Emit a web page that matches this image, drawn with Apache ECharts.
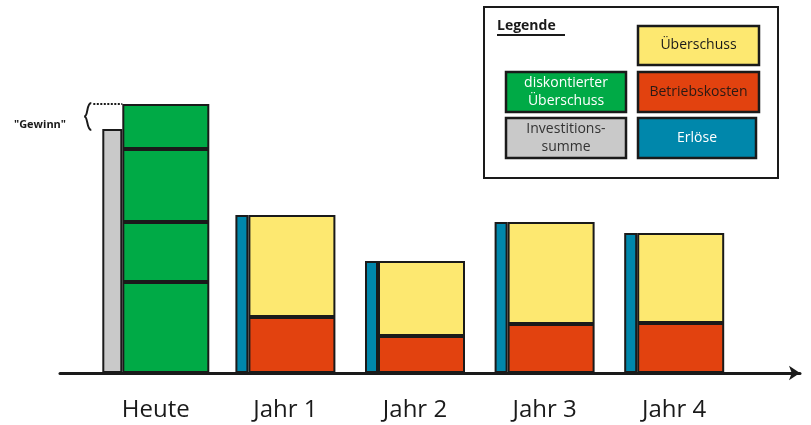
<!DOCTYPE html>
<html>
<head>
	<meta charset="utf-8">
	<title>Investition</title>
	<script type="text/javascript" src="https://cdn.jsdelivr.net/npm/echarts@6/dist/echarts.min.js"></script>
	<style>
		html, body { margin: 0; padding: 0; background: #fff; }
	</style>
</head>
<body>
	<div id="chart" style="width: 811px; height: 425px;"></div>
	<script type="text/javascript">
	// Werte (Hoehen in gleichen Einheiten)
	var kategorien = ['Heute', 'Jahr 1', 'Jahr 2', 'Jahr 3', 'Jahr 4'];
	var investition = 244;
	var diskontiert = [91, 60, 73, 45];       // diskontierter Ueberschuss Jahr 1..4, gestapelt bei "Heute"
	var betriebskosten = [56, 37, 49, 50];    // Jahr 1..4
	var ueberschuss = [102, 75, 102, 90];     // Jahr 1..4
	var erloese = [158, 112, 151, 140];       // Jahr 1..4

	var farben = {
		gruen: '#00aa46',
		gelb: '#fde870',
		rot: '#e2420f',
		blau: '#0087ab',
		grau: '#c9c9c9',
		rand: '#1a1a1a'
	};
	var schrift = '"Open Sans", "DejaVu Sans", sans-serif';

	function heute(v) {
		return [v, '-', '-', '-', '-'];
	}
	function jahre(arr) {
		return ['-'].concat(arr);
	}
	function balken(name, farbe, xIdx, stack, breite, daten) {
		return {
			name: name,
			type: 'bar',
			xAxisIndex: xIdx,
			yAxisIndex: 0,
			stack: stack,
			barWidth: breite,
			barGap: '0%',
			data: daten,
			silent: true,
			itemStyle: { color: farbe, borderColor: farben.rand, borderWidth: 2 }
		};
	}

	var series = [];
	series.push(balken('Investitionssumme', farben.grau, 0, 'inv', 20, heute(investition)));
	diskontiert.forEach(function (v, i) {
		series.push(balken('diskontierter Überschuss ' + (i + 1), farben.gruen, 0, 'gruen', 87, heute(v)));
	});
	series.push(balken('Erlöse', farben.blau, 1, 'erl', 13, jahre(erloese)));
	series.push(balken('Betriebskosten', farben.rot, 1, 'haupt', 87, jahre(betriebskosten)));
	series.push(balken('Überschuss', farben.gelb, 1, 'haupt', 87, jahre(ueberschuss)));

	var chart = echarts.init(document.getElementById('chart'));
	chart.setOption({
		animation: false,
		grid: [
			{ left: 91, width: 648, top: 73, bottom: 52 },
			{ left: 60, right: 11, top: 73, bottom: 52 }
		],
		xAxis: [
			{
				type: 'category', gridIndex: 0, data: kategorien,
				axisLine: { show: false }, axisTick: { show: false },
				axisLabel: { margin: 25, fontSize: 24, color: '#1a1a1a', fontFamily: schrift }
			},
			{
				type: 'category', gridIndex: 0, data: kategorien, show: false
			},
			{
				type: 'value', gridIndex: 1, min: 0, max: 1,
				axisLine: {
					show: true, symbol: ['none', 'arrow'], symbolSize: [11, 11],
					lineStyle: { color: farben.rand, width: 3 }
				},
				axisTick: { show: false }, axisLabel: { show: false }, splitLine: { show: false }
			}
		],
		yAxis: [
			{ type: 'value', gridIndex: 0, min: 0, max: 300, show: false },
			{ type: 'value', gridIndex: 1, min: 0, max: 300, show: false }
		],
		series: series
	});

	// Legende und "Gewinn"-Markierung
	var gesamtGruen = diskontiert.reduce(function (a, b) { return a + b; }, 0);
	var yGruen = chart.convertToPixel({ yAxisIndex: 0 }, gesamtGruen);
	var yInv = chart.convertToPixel({ yAxisIndex: 0 }, investition);
	var xHeute = chart.convertToPixel({ xAxisIndex: 0 }, 'Heute');
	var xGrau = xHeute - 53.5;
	var bx = xGrau - 15;
	var ym = (yGruen + yInv) / 2;
	var klammerStil = { fill: null, stroke: farben.rand, lineWidth: 2 };

	function kasten(x, y, w, h, farbe, text, textFarbe) {
		return {
			type: 'rect',
			shape: { x: x, y: y, width: w, height: h },
			style: { fill: farbe, stroke: farben.rand, lineWidth: 2.5 },
			textContent: {
				style: { text: text, fill: textFarbe, fontSize: 14, fontFamily: schrift, align: 'center', lineHeight: 18 }
			},
			textConfig: { position: 'inside' }
		};
	}

	chart.setOption({
		graphic: [
			{
				type: 'bezierCurve',
				shape: { x1: bx + 4, y1: yGruen - 1, cpx1: bx - 1, cpy1: yGruen - 1, cpx2: bx + 1, cpy2: ym, x2: bx - 3, y2: ym },
				style: klammerStil
			},
			{
				type: 'bezierCurve',
				shape: { x1: bx - 3, y1: ym, cpx1: bx + 1, cpy1: ym, cpx2: bx - 1, cpy2: yInv + 1, x2: bx + 4, y2: yInv + 1 },
				style: klammerStil
			},
			{
				type: 'line',
				shape: { x1: bx + 6, y1: yGruen, x2: xGrau + 20, y2: yGruen },
				style: { stroke: farben.rand, lineWidth: 2, lineDash: [2, 1.5] }
			},
			{
				type: 'text',
				x: 40, y: yInv - 4,
				style: {
					text: '"Gewinn"', fontSize: 11, fontWeight: 'bold', fontFamily: schrift,
					fill: '#1a1a1a', align: 'center', verticalAlign: 'middle'
				}
			},
			{
				type: 'rect',
				shape: { x: 484, y: 7, width: 294, height: 171 },
				style: { fill: '#fff', stroke: farben.rand, lineWidth: 2 }
			},
			{
				type: 'text', x: 497, y: 26,
				style: {
					text: 'Legende', fontSize: 14, fontWeight: 'bold', fontFamily: schrift,
					fill: '#1a1a1a', verticalAlign: 'middle'
				}
			},
			{
				type: 'line',
				shape: { x1: 497, y1: 35, x2: 565, y2: 35 },
				style: { stroke: farben.rand, lineWidth: 2 }
			},
			kasten(638, 26, 121, 39, farben.gelb, 'Überschuss', '#1a1a1a'),
			kasten(506, 72, 120, 40, farben.gruen, 'diskontierter\nÜberschuss', '#fff'),
			kasten(638, 72, 121, 40, farben.rot, 'Betriebskosten', '#2a1a14'),
			kasten(506, 118, 120, 40, farben.grau, 'Investitions-\nsumme', '#333'),
			kasten(638, 118, 118, 40, farben.blau, 'Erlöse', '#fff')
		]
	});
	</script>
</body>
</html>
